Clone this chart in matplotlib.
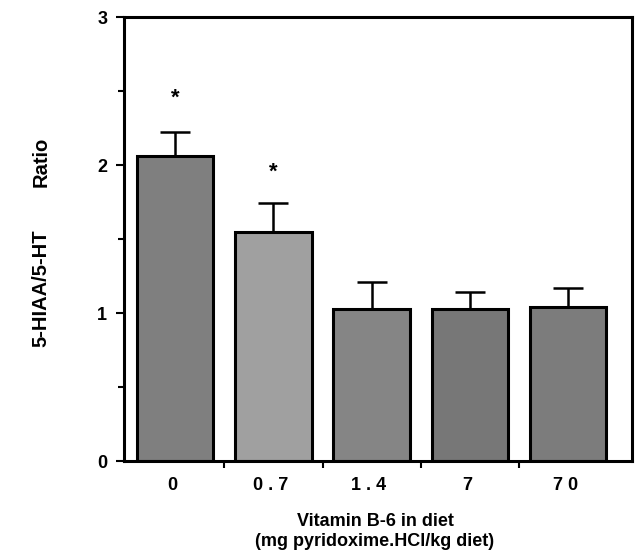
import matplotlib.pyplot as plt
import numpy as np

categories = ["0", "0 . 7", "1 . 4", "7", "7 0"]
ratio = [2.06, 1.55, 1.03, 1.03, 1.04]
sem = [0.16, 0.19, 0.18, 0.11, 0.13]
significant = [True, True, False, False, False]
star_y = [2.45, 1.95]
bar_colors = ["#7f7f7f", "#a0a0a0", "#858585", "#777777", "#7c7c7c"]


def main():
    plt.rcParams["font.family"] = ["Liberation Sans", "DejaVu Sans"]
    plt.rcParams["font.weight"] = "bold"

    fig = plt.figure(figsize=(6.38, 5.58), dpi=100)
    ax = fig.add_axes([0.1944, 0.1738, 0.7962, 0.7957])

    x = np.arange(len(categories))
    ax.bar(x, ratio, width=0.78, color=bar_colors, edgecolor="black",
           linewidth=2.2, zorder=2)
    ax.errorbar(x, ratio, yerr=[np.zeros(len(sem)), sem], fmt="none",
                ecolor="black", elinewidth=1.8, capsize=11, capthick=1.8,
                zorder=1)

    star_idx = [i for i, s in enumerate(significant) if s]
    for i, y in zip(star_idx, star_y):
        ax.text(x[i], y, "*", ha="center", va="center", fontsize=16,
                fontweight="bold")

    ax.set_xlim(-0.52, 4.65)
    ax.set_ylim(0, 3)
    ax.set_yticks([0, 1, 2, 3])
    ax.set_yticks([0.5, 1.5, 2.5], minor=True)
    ax.set_xticks([0.5, 1.5, 2.5, 3.5])
    ax.set_xticklabels([])
    for xi, lab in zip(x, categories):
        ax.text(xi - 0.03, -0.165, lab, ha="center", va="center", fontsize=13,
                fontweight="bold", clip_on=False)

    ax.tick_params(axis="y", which="major", length=6, width=1.5,
                   direction="out", pad=6, labelsize=13)
    ax.tick_params(axis="y", which="minor", length=4, width=1.5, direction="out")
    ax.tick_params(axis="x", which="major", length=5, width=1.5, direction="out")
    for side in ["left", "bottom", "top", "right"]:
        ax.spines[side].set_linewidth(2.2)

    fig.text(375 / 638, 1 - 522 / 558, "Vitamin B-6 in diet", ha="center",
             va="center", fontsize=13, fontweight="bold")
    fig.text(375 / 638, 1 - 541 / 558, "(mg pyridoxime.HCl/kg diet)",
             ha="center", va="center", fontsize=13, fontweight="bold")
    fig.text(41 / 638, 1 - 288 / 558, "5-HIAA/5-HT", rotation=90,
             ha="center", va="center", fontsize=14.5, fontweight="bold")
    fig.text(41 / 638, 1 - 162 / 558, "Ratio", rotation=90,
             ha="center", va="center", fontsize=14.5, fontweight="bold")

    fig.savefig("out.png", dpi=100)


if __name__ == "__main__":
    main()
